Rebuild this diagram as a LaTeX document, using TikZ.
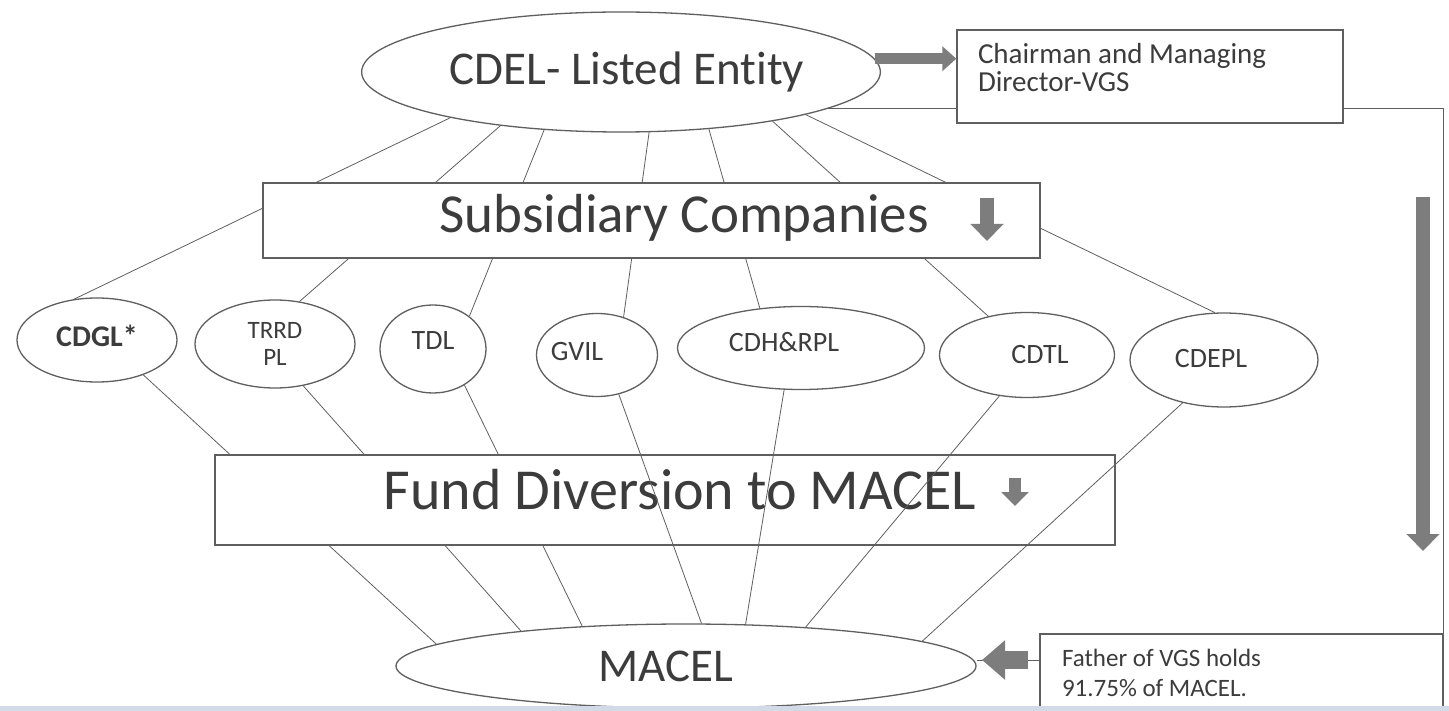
\documentclass[tikz,border=0pt]{standalone}
\usepackage{fontspec}
\setmainfont{Carlito}[Ligatures = NoCommon]
\usetikzlibrary{shapes.geometric,arrows.meta}

\definecolor{inkgray}{RGB}{60,60,60}
\definecolor{linegray}{RGB}{95,95,95}
\definecolor{arrowgray}{RGB}{125,125,125}
\definecolor{scanstrip}{RGB}{210,218,232}

\begin{document}
\begin{tikzpicture}[
					x = 1pt, y = -1pt,
					every node/.style = {
						draw = linegray,
						line width = 1.3pt,
						text = inkgray,
						fill = white,
						inner sep = 0pt,
					},
					entity/.style = {ellipse, font = \fontsize{47}{50}\selectfont},
					company/.style = {ellipse, align = center, font = \fontsize{28}{27}\selectfont},
					band/.style = {rectangle},
					bandtext/.style = {draw = none, fill = none},
					note/.style = {rectangle, inner xsep = 21pt},
					link/.style = {draw = linegray, line width = 0.8pt},
					fatarrow/.style n args = {3}{draw = arrowgray, line width = #1,
						-{Triangle[length = #2, width = #3]}},
			]
				\useasboundingbox (0, 0) rectangle (1449, 711);

				% entities
				\draw (621, 72) node (cdel) [entity, minimum width = 518pt, minimum height = 120pt] {\hspace*{12pt}CDEL- Listed Entity};
				\draw (686, 666) node (macel) [entity, minimum width = 580pt, minimum height = 84pt] {\hspace*{-40pt}MACEL};

				% subsidiaries
				\draw (97, 340) node (cdgl) [company, minimum width = 160pt, minimum height = 84pt, font = \fontsize{30}{27}\selectfont] {\raisebox{9pt}{\textbf{CDGL*}}};
				\draw (275, 344) node (trrd) [company, minimum width = 160pt, minimum height = 88pt, font = \fontsize{25}{27}\selectfont] {TRRD\\PL};
				\draw (433, 349) node (tdl) [company, minimum width = 106pt, minimum height = 88pt] {\raisebox{16pt}{TDL}};
				\draw (597, 355) node (gvil) [company, minimum width = 121pt, minimum height = 83pt] {\hspace*{-40pt}\raisebox{7pt}{GVIL}};
				\draw (801, 348) node (cdh) [company, minimum width = 247pt, minimum height = 83pt] {\hspace*{-34pt}\raisebox{12pt}{CDH\&RPL}};
				\draw (1027, 355) node (cdtl) [company, minimum width = 175pt, minimum height = 85pt] {\hspace*{26pt}CDTL};
				\draw (1224, 360) node (cdepl) [company, minimum width = 188pt, minimum height = 94pt] {\hspace*{-26pt}\raisebox{3pt}{CDEPL}};

				\coordinate (rtop) at (1443, 110);
				\coordinate (rbot) at (1443, 711);

				% links under the boxes
				\draw [link] (cdel.195) -- (cdgl.119);
				\draw [link] (cdel.204) -- (trrd.60);
				\draw [link] (cdel.217) -- (tdl.42);
				\draw [link] (cdel.295) -- (gvil.55);
				\draw [link] (cdel.327) -- (cdh.136);
				\draw [link] (cdel.342) -- (cdtl.135);
				\draw [link] (cdel.347) -- (cdepl.101);
				\draw [link] (cdgl.-37) -- (macel.175);
				\draw [link] (trrd.-56) -- (macel.168);
				\draw [link] (tdl.-49) -- (macel.159);
				\draw [link] (cdel.-10) -- (cdel.-10 -| rtop) -- (rbot);

				% bands
				\draw (651.5, 220.5) node (sub) [band, minimum width = 777pt, minimum height = 75pt] {};
				\draw (684, 218) node (subtext) [bandtext, font = \fontsize{55}{60}\selectfont] {Subsidiary Companies};
				\draw [fatarrow = {14pt}{17pt}{32pt}] (987, 198) -- (987, 241);
				\draw (665, 500) node (fund) [band, minimum width = 900pt, minimum height = 90pt] {};
				\draw (680, 490) node (fundtext) [bandtext, font = \fontsize{58}{60}\selectfont] {Fund Diversion to MACEL};
				\draw [fatarrow = {12pt}{14pt}{27pt}] (1015, 478) -- (1015, 506);

				% links over the band
				\draw [link] (gvil.-61) -- (macel.70);
				\draw [link] (cdh.-112) -- (macel.35);
				\draw [link] (cdtl.-124) -- (macel.18);
				\draw [link] (cdepl.-134) -- (macel.6);

				% notes
				\draw (1150, 76.5) node (chair) [note, font = \fontsize{29}{28}\selectfont]
					{\parbox[c][93pt][t]{344pt}{\vspace*{13pt}Chairman and Managing\\Director-VGS}};
				\draw [fatarrow = {11pt}{14pt}{24pt}] (cdel.3) -- (cdel.3 -| chair.west);
				\draw (1241.5, 672.5) node (father) [note, inner xsep = 22pt, font = \fontsize{25}{30}\selectfont]
					{\parbox[c][77pt][c]{359pt}{Father of VGS holds\\91.75\% of MACEL.}};
				\draw [link] ([yshift = 12pt]father.west) -- ([yshift = 12pt]father.west -| macel.east);
				\draw [fatarrow = {18pt}{23pt}{38pt}] (1028, 660) -- (982, 660);
				\draw [fatarrow = {14pt}{17pt}{32pt}] (1423, 197) -- (1423, 551);

				\fill [scanstrip] (0, 706) rectangle (1449, 711);
			\end{tikzpicture}
\end{document}
